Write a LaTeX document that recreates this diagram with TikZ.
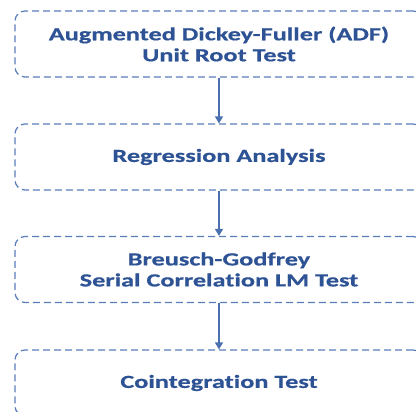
\documentclass[tikz,border=0pt]{standalone}
\usepackage{fontspec}
\setmainfont{Carlito}[FakeStretch=1.42, Ligatures={NoCommon}, FakeBold=0.6]
\usetikzlibrary{arrows.meta}
\definecolor{boxline}{HTML}{5A7DBA}
\definecolor{boxtext}{HTML}{2E5395}
\definecolor{arrowcol}{HTML}{4A70B0}
\tikzset{
  stagebox/.style={draw=boxline, line width=1.2pt, dash pattern=on 7pt off 4pt,
    rounded corners=10pt, minimum width=408pt, minimum height=66pt,
    align=center, text=boxtext, font=\fontsize{18.5pt}{21pt}\selectfont\bfseries,
    inner sep=0pt},
  flowarrow/.style={draw=arrowcol, line width=1.4pt,
    -{Triangle[length=7pt,width=8pt]}}
}
\begin{document}
\begin{tikzpicture}[x=1pt,y=1pt]
\useasboundingbox (0,0) rectangle (416,-412);
\node[stagebox] (adf)  at (219,-44)  {Augmented Dickey-Fuller (ADF)\\Unit Root Test};
\node[stagebox] (reg)  at (219,-157) {Regression Analysis};
\node[stagebox] (bg)   at (219,-269.5) {Breusch-Godfrey\\Serial Correlation LM Test};
\node[stagebox] (coin) at (219,-383) {Cointegration Test};
\draw[flowarrow] (adf.south) -- (reg.north);
\draw[flowarrow] (reg.south) -- (bg.north);
\draw[flowarrow] (bg.south) -- (coin.north);
\end{tikzpicture}
\end{document}
